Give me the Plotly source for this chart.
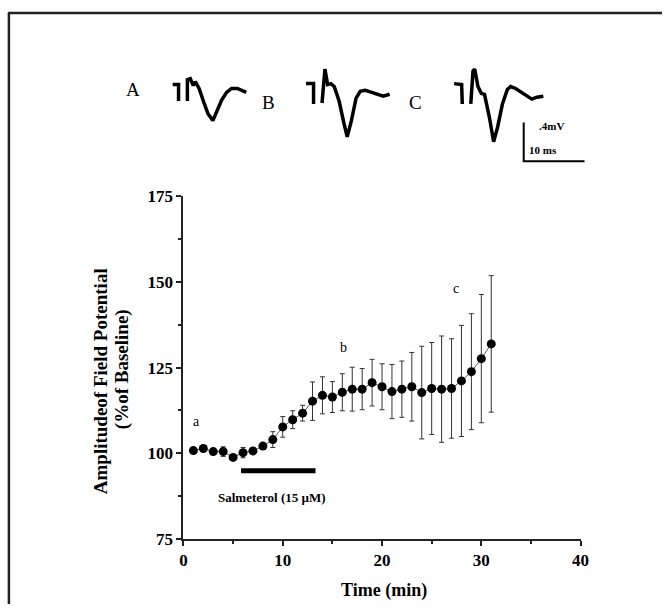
import plotly.graph_objects as go

# ---------------- data ----------------
time_min = list(range(1, 32))
amplitude = [100.8, 101.4, 100.5, 100.5, 98.8, 100.2, 100.7, 102.1, 104.0, 107.7,
             109.8, 111.7, 115.2, 116.9, 116.4, 117.8, 118.7, 118.7, 120.6, 119.4,
             118.0, 118.7, 119.4, 117.7, 118.9, 118.7, 118.9, 121.1, 123.8, 127.6,
             131.9]
sem = [0.6, 0.6, 0.8, 1.4, 0.6, 1.5, 0.6, 0.8, 2.3, 3.0,
       2.6, 2.3, 5.6, 5.4, 4.5, 5.4, 6.4, 6.0, 6.8, 6.7,
       7.9, 8.2, 10.0, 13.5, 13.4, 15.5, 14.5, 16.2, 16.9, 18.7,
       19.9]
drug_window = [5.8, 13.3]       # min, Salmeterol application
drug_level = [94.9, 94.9]
x_ticks = [0, 10, 20, 30, 40]
y_ticks = [75, 100, 125, 150, 175]
point_labels = ["a", "b", "c"]
point_label_t = [1.3, 16.1, 27.4]
point_label_v = [109.3, 130.8, 148.0]

# example field potential traces (ms, mV) ; None breaks the stimulus artefact
wave_A_t = [0, 0.97, 0.97, None, 2.42, 2.42, 2.90, 3.39, 3.71, 4.35, 5.16, 5.81, 6.61,
            7.26, 8.06, 8.87, 9.68, 10.65, 11.45, 12.10]
wave_A_v = [0, 0, -0.17, None, -0.17, 0.05, 0.06, -0.01, 0.03, -0.04, -0.19, -0.30, -0.37,
            -0.28, -0.16, -0.08, -0.04, -0.04, -0.06, -0.08]
wave_B_t = [0, 1.24, 1.24, None, 2.63, 3.02, 3.11, 3.55, 4.08, 4.63, 5.44, 6.24, 6.77,
            7.47, 8.23, 8.92, 9.73, 10.81, 11.89, 12.69, 13.76]
wave_B_v = [0, 0, -0.21, None, -0.20, 0.14, 0.15, -0.01, 0.00, -0.03, -0.18, -0.41, -0.55,
            -0.38, -0.15, -0.08, -0.07, -0.09, -0.11, -0.13, -0.11]
wave_C_t = [0, 1.24, 1.34, None, 2.74, 3.11, 3.39, 3.92, 4.47, 5.00, 5.81, 6.50, 7.15,
            7.95, 8.76, 9.31, 10.11, 11.45, 12.79, 13.60, 14.68]
wave_C_v = [0, -0.01, -0.21, None, -0.21, 0.13, 0.15, -0.03, -0.10, -0.11, -0.35, -0.60, -0.45,
            -0.21, -0.06, -0.03, -0.05, -0.11, -0.16, -0.14, -0.13]
scale_ms = 10
scale_mv = 0.4

# ---------------- layout helpers ----------------
W, H = 671, 614
SERIF = "Liberation Serif, Times New Roman, serif"


def px(x):
    return x / W


def py(y):
    return 1 - y / H


fig = go.Figure()

# main data: line + error bars + markers
fig.add_trace(go.Scatter(
    x=time_min, y=amplitude, mode="lines+markers",
    line=dict(color="#555555", width=1),
    marker=dict(color="black", size=9),
    error_y=dict(type="data", array=sem, visible=True, color="#333333",
                 thickness=1, width=2.5),
    xaxis="x", yaxis="y", showlegend=False, hoverinfo="skip"))

# drug bar
fig.add_trace(go.Scatter(
    x=drug_window, y=drug_level, mode="lines",
    line=dict(color="black", width=5), xaxis="x", yaxis="y",
    showlegend=False, hoverinfo="skip"))

# waveform insets
insets = [
    ("x2", "y2", wave_A_t, wave_A_v),
    ("x3", "y3", wave_B_t, wave_B_v),
    ("x4", "y4", wave_C_t, wave_C_v),
]
for xa, ya, t, v in insets:
    fig.add_trace(go.Scatter(
        x=t, y=v, mode="lines", line=dict(color="black", width=3.5),
        connectgaps=False, xaxis=xa, yaxis=ya, showlegend=False, hoverinfo="skip"))

# scale bar on inset C
bar_t0, bar_v0 = 11.45, -0.80
fig.add_trace(go.Scatter(
    x=[bar_t0, bar_t0, bar_t0 + scale_ms],
    y=[bar_v0 + scale_mv, bar_v0, bar_v0],
    mode="lines", line=dict(color="black", width=2),
    xaxis="x4", yaxis="y4", showlegend=False, hoverinfo="skip"))

axis_font = dict(family=SERIF, size=17, color="black", weight="bold")

fig.update_layout(
    width=W, height=H,
    margin=dict(l=0, r=0, t=0, b=0),
    paper_bgcolor="white", plot_bgcolor="rgba(0,0,0,0)",
    xaxis=dict(domain=[px(183), px(588)], range=[0, 40], tickvals=x_ticks,
               showgrid=False, zeroline=False, showline=True, linecolor="#222",
               linewidth=2, ticks="outside", ticklen=5, tickwidth=2, tickcolor="#222",
               tickfont=axis_font, anchor="y",
               minor=dict(dtick=5, ticks="outside", ticklen=3, tickwidth=1.5,
                          tickcolor="#222", showgrid=False)),
    yaxis=dict(domain=[py(547), py(193)], range=[75, 175], tickvals=y_ticks,
               showgrid=False, zeroline=False, showline=True, linecolor="#222",
               linewidth=2, ticks="outside", ticklen=5, tickwidth=2, tickcolor="#222",
               tickfont=axis_font, anchor="x",
               minor=dict(dtick=12.5, ticks="outside", ticklen=3, tickwidth=1.5,
                          tickcolor="#222", showgrid=False)),
)

inset_dom = {
    "2": ([px(168.9), px(268.1)], [py(168), py(53)], [-0.5, 15.5]),
    "3": ([px(304.9), px(404.1)], [py(167), py(52)], [-0.5, 15.5]),
    "4": ([px(455.9), px(598.5)], [py(167), py(52)], [-0.5, 22.5]),
}
for k, (dx, dy, xr) in inset_dom.items():
    fig.update_layout(**{
        f"xaxis{k}": dict(domain=dx, range=xr, visible=False, anchor=f"y{k}",
                          fixedrange=True),
        f"yaxis{k}": dict(domain=dy, range=[-0.9, 0.25], visible=False,
                          anchor=f"x{k}", fixedrange=True),
    })

ann = []
# panel letters
for letter, x, y in [("A", 132, 83), ("B", 270, 97), ("C", 420, 97)]:
    ann.append(dict(text=letter, x=px(x), y=py(y), xref="paper", yref="paper",
                    showarrow=False, xanchor="center", yanchor="middle",
                    font=dict(family=SERIF, size=19, color="black")))
# scale bar text
ann.append(dict(text=".4mV", x=px(544), y=py(121), xref="paper", yref="paper",
                showarrow=False, xanchor="left", yanchor="middle",
                font=dict(family=SERIF, size=11, color="black", weight="bold")))
ann.append(dict(text="10 ms", x=px(533), y=py(146), xref="paper", yref="paper",
                showarrow=False, xanchor="left", yanchor="middle",
                font=dict(family=SERIF, size=11, color="black", weight="bold")))
# point labels
for lab, t, v in zip(point_labels, point_label_t, point_label_v):
    ann.append(dict(text=lab, x=t, y=v, xref="x", yref="y", showarrow=False,
                    font=dict(family=SERIF, size=14, color="black")))
# drug label
ann.append(dict(text="Salmeterol (15 µM)", x=8.9, y=87, xref="x", yref="y",
                showarrow=False,
                font=dict(family=SERIF, size=13, color="black", weight="bold")))
# axis titles
ann.append(dict(text="Time (min)", x=px(387), y=py(600), xref="paper", yref="paper",
                showarrow=False, xanchor="center", yanchor="middle",
                font=dict(family=SERIF, size=18, color="black", weight="bold")))
ann.append(dict(text="Amplitudeof Field Potential", x=px(98), y=py(384),
                xref="paper", yref="paper", showarrow=False, textangle=-90,
                xanchor="center", yanchor="middle",
                font=dict(family=SERIF, size=19, color="black", weight="bold")))
ann.append(dict(text="(%of Baseline)", x=px(121), y=py(372),
                xref="paper", yref="paper", showarrow=False, textangle=-90,
                xanchor="center", yanchor="middle",
                font=dict(family=SERIF, size=19, color="black", weight="bold")))
fig.update_layout(annotations=ann)

# outer frame (top and left edges of the scanned figure)
fig.add_shape(type="line", xref="paper", yref="paper", x0=px(4), x1=1,
              y0=py(4), y1=py(4), line=dict(color="#222", width=2.5))
fig.add_shape(type="line", xref="paper", yref="paper", x0=px(5), x1=px(5),
              y0=py(4), y1=0, line=dict(color="#222", width=2.5))

fig.write_html("out.html")
